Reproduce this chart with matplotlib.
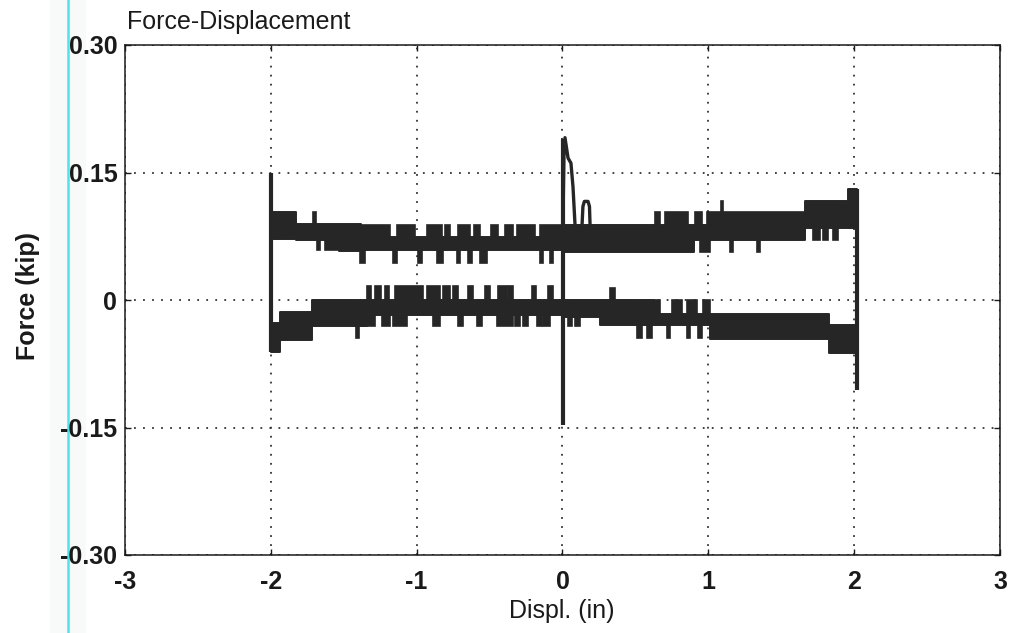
import numpy as np
import matplotlib.pyplot as plt
from matplotlib.lines import Line2D
from matplotlib.patches import Rectangle

plt.rcParams['font.family'] = ['Liberation Sans', 'DejaVu Sans']

# axes
x_ticks = [-3, -2, -1, 0, 1, 2, 3]
x_labels = ['-3', '-2', '-1', '0', '1', '2', '3']
y_ticks = [-0.30, -0.15, 0.0, 0.15, 0.30]
y_labels = ['-0.30', '-0.15', '0', '0.15', '0.30']

# upper branch (kip): step edges (in) with band top / bottom per segment
up_x = [-2.00, -1.83, -1.53, -1.38, 0.00, 0.90, 1.66, 1.96, 2.02]
up_top = [0.104, 0.089, 0.089, 0.074, 0.088, 0.088, 0.117, 0.131]
up_bot = [0.072, 0.071, 0.058, 0.059, 0.057, 0.071, 0.085, 0.085]

# teeth sticking up out of the upper band
up_bump_x0 = [-1.71, -1.377, -1.137, -0.931, -0.806, -0.717, -0.607, -0.492, -0.394, -0.314,
              -0.154, 0.634, 0.703, 0.909, 0.991, 1.085]
up_bump_x1 = [-1.69, -1.183, -1.011, -0.828, -0.771, -0.634, -0.566, -0.442, -0.339, -0.189,
              -0.005, 0.669, 0.861, 0.957, 1.660, 1.100]
up_bump_y = [0.104, 0.088, 0.088, 0.088, 0.088, 0.088, 0.088, 0.088, 0.088, 0.088,
             0.088, 0.104, 0.104, 0.104, 0.104, 0.116]

# teeth hanging below the upper band
up_dip_x0 = [-1.683, -1.629, -1.389, -1.162, -0.991, -0.861, -0.723, -0.648, -0.566, -0.154,
             -0.086, 0.943, 1.149, 1.334, 1.718, 1.786, 1.855]
up_dip_x1 = [-1.663, -1.539, -1.354, -1.135, -0.963, -0.819, -0.703, -0.620, -0.518, -0.134,
             -0.065, 1.011, 1.169, 1.354, 1.766, 1.820, 1.889]
up_dip_y = [0.059, 0.059, 0.044, 0.044, 0.044, 0.044, 0.044, 0.044, 0.044, 0.044,
            0.044, 0.057, 0.057, 0.057, 0.071, 0.071, 0.071]

# lower branch (kip)
lo_x = [-2.00, -1.94, -1.72, -1.34, 0.00, 0.26, 0.63, 1.01, 1.83, 2.02]
lo_top = [-0.027, -0.014, 0.000, 0.000, 0.000, 0.000, -0.016, -0.016, -0.029]
lo_bot = [-0.061, -0.047, -0.031, -0.018, -0.020, -0.029, -0.029, -0.046, -0.062]

lo_bump_x0 = [-1.341, -1.286, -1.217, -1.149, -0.930, -0.819, -0.751, -0.648, -0.531, -0.442,
              -0.374, -0.209, -0.099, 0.326, 0.630, 0.751, 0.854, 0.964]
lo_bump_x1 = [-1.313, -1.245, -1.190, -0.957, -0.840, -0.771, -0.717, -0.614, -0.497, -0.381,
              -0.339, -0.182, -0.065, 0.360, 0.669, 0.820, 0.923, 1.010]
lo_bump_y = [0.016, 0.016, 0.016, 0.016, 0.016, 0.016, 0.016, 0.016, 0.016, 0.016,
             0.016, 0.016, 0.016, 0.014, 0.000, 0.000, 0.000, 0.000]

lo_dip_x0 = [-1.416, -1.389, -1.238, -1.162, -0.888, -0.717, -0.586, -0.449, -0.326, -0.271,
             -0.175, -0.134, 0.038, 0.086, 0.511, 0.580, 0.717, 0.854, 0.930]
lo_dip_x1 = [-1.395, -1.286, -1.183, -1.066, -0.840, -0.682, -0.552, -0.339, -0.291, -0.237,
             -0.140, -0.086, 0.065, 0.120, 0.545, 0.614, 0.737, 0.874, 0.957]
lo_dip_y = [-0.045, -0.031, -0.031, -0.031, -0.031, -0.031, -0.031, -0.031, -0.031, -0.031,
            -0.031, -0.031, -0.031, -0.031, -0.045, -0.045, -0.045, -0.045, -0.045]

# load reversals (vertical strokes)
rev_x = [-2.00, 0.003, 2.02]
rev_lo = [-0.061, -0.147, -0.106]
rev_hi = [0.150, 0.190, 0.131]

# peak just after the zero crossing, and the small loop next to it
peak_x = [0.003, 0.010, 0.017, 0.038, 0.058, 0.072, 0.086]
peak_y = [0.088, 0.170, 0.191, 0.167, 0.161, 0.133, 0.088]
loop_x = [0.134, 0.140, 0.150, 0.175, 0.185, 0.189]
loop_y = [0.088, 0.110, 0.116, 0.116, 0.110, 0.088]

ink = '#262626'
W, H = 1012, 633

fig = plt.figure(figsize=(W / 100, H / 100), dpi=100)
ax = fig.add_axes([125 / W, 1 - 555 / H, 875 / W, 510 / H])

# scanner shadow + cyan edge line on the left
fig.add_artist(Rectangle((50 / W, 0), 36 / W, 1, transform=fig.transFigure,
                         facecolor='#f8fafa', edgecolor='none', zorder=-2))
fig.add_artist(Line2D([68.5 / W, 68.5 / W], [0, 1], transform=fig.transFigure,
                      color='#4fe2f0', lw=1.8, zorder=-1))

for xs, tops, bots in [(up_x, up_top, up_bot), (lo_x, lo_top, lo_bot)]:
    ax.fill_between(xs, tops + [tops[-1]], bots + [bots[-1]], step='post',
                    color=ink, lw=1.4, edgecolor=ink, zorder=3)

for x0, x1, y in [(up_bump_x0, up_bump_x1, up_bump_y), (lo_bump_x0, lo_bump_x1, lo_bump_y)]:
    x0 = np.array(x0)
    x1 = np.array(x1)
    y = np.array(y)
    ax.bar(x0, 0.025, width=x1 - x0, bottom=y - 0.025, align='edge',
           color=ink, edgecolor=ink, lw=1.2, zorder=3)

for x0, x1, y in [(up_dip_x0, up_dip_x1, up_dip_y), (lo_dip_x0, lo_dip_x1, lo_dip_y)]:
    x0 = np.array(x0)
    x1 = np.array(x1)
    y = np.array(y)
    ax.bar(x0, 0.025, width=x1 - x0, bottom=y, align='edge',
           color=ink, edgecolor=ink, lw=1.2, zorder=3)

ax.vlines(rev_x, rev_lo, rev_hi, color=ink, lw=3.0, zorder=4)
ax.plot(peak_x, peak_y, color=ink, lw=2.4, solid_joinstyle='round', zorder=4)
ax.plot(loop_x, loop_y, color=ink, lw=2.4, solid_joinstyle='round', zorder=4)

ax.set_xlim(-3, 3)
ax.set_ylim(-0.30, 0.30)
ax.set_xticks(x_ticks)
ax.set_xticklabels(x_labels, fontweight='bold')
ax.set_yticks(y_ticks)
ax.set_yticklabels(y_labels, fontweight='bold')
ax.tick_params(axis='both', direction='in', length=4, width=1.0, color='#1a1a1a',
               labelsize=18, labelcolor='#1a1a1a', top=True, right=True)
ax.tick_params(axis='x', pad=10.5)
ax.tick_params(axis='y', pad=5.5)
for s in ax.spines.values():
    s.set_linewidth(1.1)
    s.set_color('#1a1a1a')

ax.set_axisbelow(True)
ax.grid(True, color='#333333', lw=1.3, linestyle=(0, (1, 4)))

fig.text(127 / W, 1 - 29 / H, 'Force-Displacement', fontsize=18, color='#1a1a1a',
         ha='left', va='baseline')
fig.text(562 / W, 1 - 618 / H, 'Displ. (in)', fontsize=18, color='#1a1a1a',
         ha='center', va='baseline')
fig.text(28 / W, 1 - 296 / H, 'Force (kip)', fontsize=18, fontweight='bold', color='#1a1a1a',
         rotation=90, ha='center', va='center')

fig.savefig('out.png', dpi=100, facecolor='white')
